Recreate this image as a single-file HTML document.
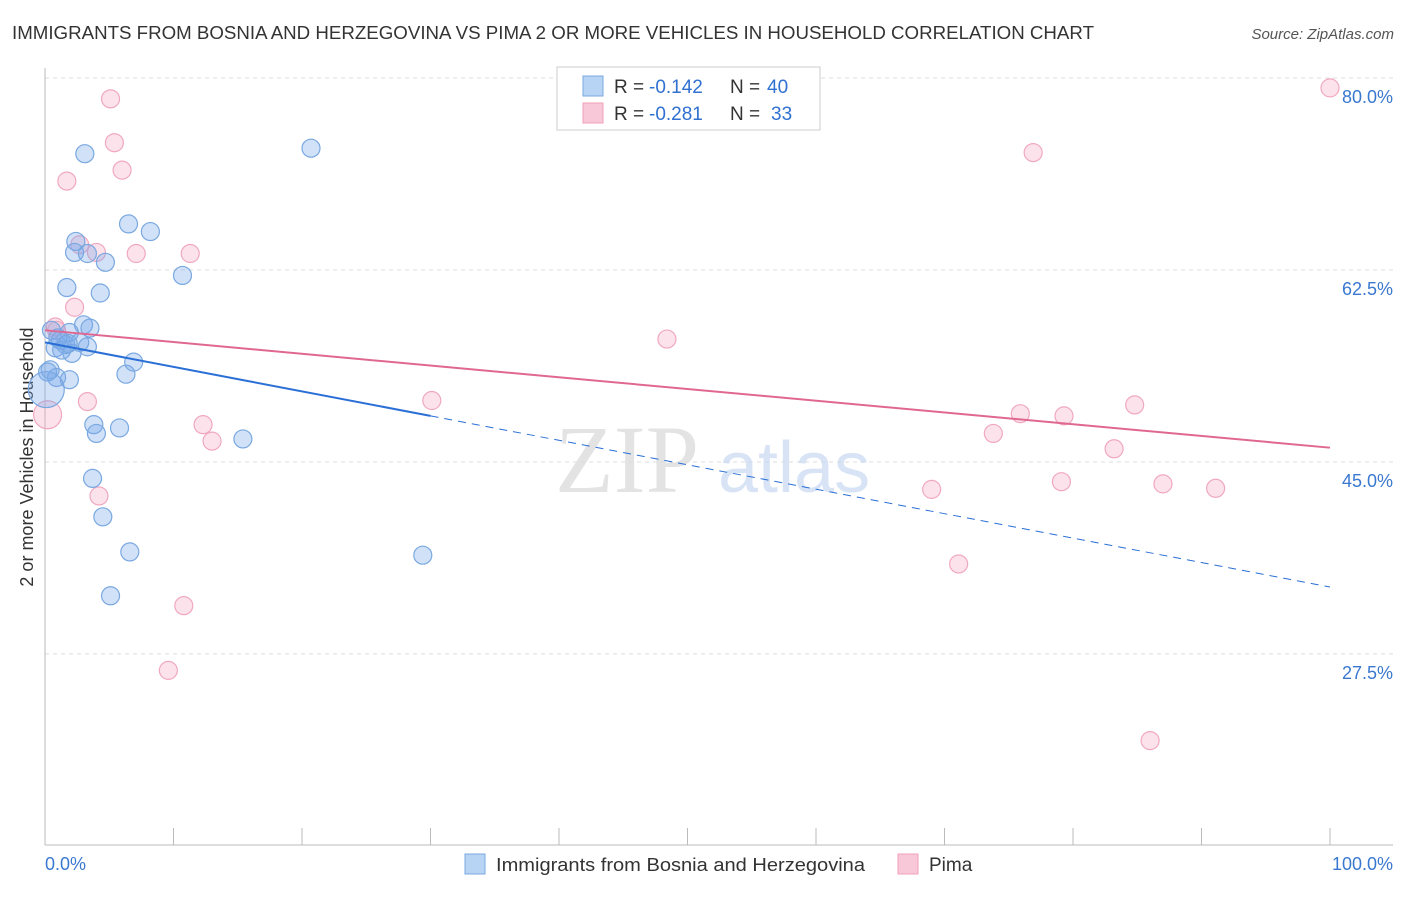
<!DOCTYPE html>
<html><head><meta charset="utf-8"><style>
body{margin:0;background:#fff;font-family:"Liberation Sans",sans-serif;}
</style></head><body>
<svg id="chart" width="1406" height="892" xmlns="http://www.w3.org/2000/svg" font-family="Liberation Sans, sans-serif">
<text x="12" y="39" font-size="18" textLength="1082" lengthAdjust="spacingAndGlyphs" fill="#333">IMMIGRANTS FROM BOSNIA AND HERZEGOVINA VS PIMA 2 OR MORE VEHICLES IN HOUSEHOLD CORRELATION CHART</text>
<text x="1394" y="39" font-size="15" fill="#555" font-style="italic" text-anchor="end">Source: ZipAtlas.com</text>
<text transform="translate(33,457) rotate(-90)" font-size="18" fill="#333" text-anchor="middle">2 or more Vehicles in Household</text>
<g id="grid"></g>
<text x="555" y="492" font-size="96" font-family="Liberation Serif, serif" fill="#ddd" opacity="0.8">ZIP</text>
<text x="718" y="492" font-size="72" fill="#c8daf2" opacity="0.7">atlas</text>
<g id="marks"></g>
<g>
<rect x="557" y="67" width="263" height="63" fill="#fff" stroke="#ccc"/>
<rect x="583" y="76" width="20" height="20" fill="#b8d4f5" stroke="#7aa8e0"/>
<rect x="583" y="103" width="20" height="20" fill="#f9c8d8" stroke="#f0a0b8"/>
<text x="614" y="93" font-size="19" fill="#333">R =</text>
<text x="649" y="93" font-size="19" fill="#3070d0">-0.142</text>
<text x="730" y="93" font-size="19" fill="#333">N =</text>
<text x="767" y="93" font-size="19" fill="#3070d0">40</text>
<text x="614" y="120" font-size="19" fill="#333">R =</text>
<text x="649" y="120" font-size="19" fill="#3070d0">-0.281</text>
<text x="730" y="120" font-size="19" fill="#333">N =</text>
<text x="771" y="120" font-size="19" fill="#3070d0">33</text>
</g>
<g>
<rect x="465" y="854" width="20" height="20" fill="#b8d4f5" stroke="#7aa8e0"/>
<text x="496" y="871" font-size="18" textLength="369" lengthAdjust="spacingAndGlyphs" fill="#333">Immigrants from Bosnia and Herzegovina</text>
<rect x="898" y="854" width="20" height="20" fill="#f9c8d8" stroke="#f0a0b8"/>
<text x="929" y="871" font-size="19" fill="#333">Pima</text>
</g>
</svg>
<script>
const yTicks=[80,62.5,45,27.5];
const yTickLabels=["80.0%","62.5%","45.0%","27.5%"];
const xTickVals=[0,10,20,30,40,50,60,70,80,90,100];
const blueX=[3.1,20.7,6.5,8.2,2.4,2.3,3.3,4.7,10.7,1.7,4.3,0.5,3.0,3.5,1.9,1.2,1.6,2.7,0.8,1.3,3.3,2.1,0.4,0.9,1.9,6.3,6.9,3.8,4.0,5.8,15.4,3.7,4.5,6.6,5.1,29.4,1.0,1.8,0.2];
const blueY=[73.1,73.6,66.7,66.0,65.1,64.1,64.0,63.2,62.0,60.9,60.4,57.0,57.5,57.2,56.8,56.1,55.7,55.9,55.4,55.2,55.5,54.9,53.4,52.7,52.5,53.0,54.1,48.4,47.6,48.1,47.1,43.5,40.0,36.8,32.8,36.5,56.3,55.8,53.2];
const pinkX=[5.1,5.4,6.0,1.7,2.7,4.0,7.1,11.3,2.3,0.8,3.3,12.3,13.0,4.2,10.8,9.6,30.1,48.4,100,76.9,75.9,73.8,79.3,84.8,83.2,69.0,79.1,87.0,91.1,71.1,86.0,0.9];
const pinkY=[78.1,74.1,71.6,70.6,64.8,64.1,64.0,64.0,59.1,57.3,50.5,48.4,46.9,41.9,31.9,26.0,50.6,56.2,79.1,73.2,49.4,47.6,49.2,50.2,46.2,42.5,43.2,43.0,42.6,35.7,19.6,57.0];
const blueBig=[0.1,51.6], pinkBig=[0.2,49.3];
const blueTrend=[0,55.9,30,49.2,100,33.6];
const pinkTrend=[0,57.0,100,46.3];
const X=v=>45+v*12.85, Y=v=>78+(80-v)*10.97;
const NS="http://www.w3.org/2000/svg";
const grid=document.getElementById('grid'), marks=document.getElementById('marks');
function mk(p,tag,at){const e=document.createElementNS(NS,tag);for(const k in at)e.setAttribute(k,at[k]);p.appendChild(e);return e;}
yTicks.forEach((t,i)=>{
 const l=mk(grid,'line',{x1:45,x2:1393,y1:Y(t),y2:Y(t),stroke:'#ddd','stroke-dasharray':'4,4'});
 
 
 const tx=mk(grid,'text',{x:1393,y:Y(t)+25,'font-size':18,fill:'#3a78d0','text-anchor':'end'});
 tx.textContent=yTickLabels[i];
 
 
});
const ax=mk(grid,'line',{x1:45,x2:45,y1:68,y2:845,stroke:'#bbb'});


const bx=mk(grid,'line',{x1:45,x2:1393,y1:845,y2:845,stroke:'#bbb'});


xTickVals.forEach(v=>{
 const t=mk(grid,'line',{x1:X(v),x2:X(v),y1:828,y2:845,stroke:'#bbb'});
 
 
});
[["0.0%",45,'start'],["100.0%",1393,'end']].forEach(a=>{
 const t=mk(grid,'text',{x:a[1],y:870,'font-size':18,fill:'#3a78d0','text-anchor':a[2]});
 t.textContent=a[0];
 
 
});
function dot(x,y,r,blue){
 const c=mk(marks,'circle',{cx:X(x),cy:Y(y),r:r,fill:blue?'rgba(120,170,235,0.35)':'rgba(245,160,190,0.3)',stroke:blue?'#7aa8e0':'#f0a8c0','stroke-width':1.2});
 
 
}
pinkX.forEach((x,i)=>dot(x,pinkY[i],9,false));
dot(pinkBig[0],pinkBig[1],14,false);
blueX.forEach((x,i)=>dot(x,blueY[i],9,true));
dot(blueBig[0],blueBig[1],18,true);
let l1=mk(marks,'line',{x1:X(blueTrend[0]),y1:Y(blueTrend[1]),x2:X(blueTrend[2]),y2:Y(blueTrend[3]),stroke:'#2a6fd6','stroke-width':2});


let l2=mk(marks,'line',{x1:X(blueTrend[2]),y1:Y(blueTrend[3]),x2:X(blueTrend[4]),y2:Y(blueTrend[5]),stroke:'#2a6fd6','stroke-width':1,'stroke-dasharray':'8,6'});


let l3=mk(marks,'line',{x1:X(pinkTrend[0]),y1:Y(pinkTrend[1]),x2:X(pinkTrend[2]),y2:Y(pinkTrend[3]),stroke:'#e06890','stroke-width':2});


</script>
</body></html>
